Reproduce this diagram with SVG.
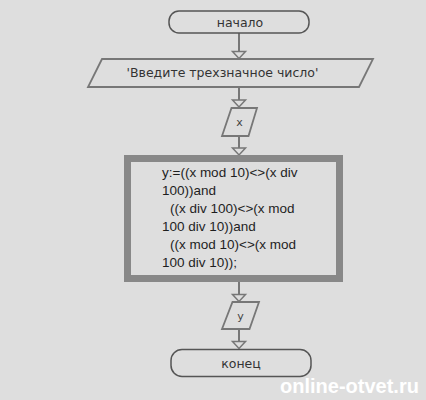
<svg xmlns="http://www.w3.org/2000/svg" width="426" height="400" viewBox="0 0 426 400">
<defs>
<style>
.term{fill:#dedede;stroke:#555;stroke-width:1.5}
.io{fill:#dedede;stroke:#777;stroke-width:1.8}
.proc{fill:#dedede;stroke:#888;stroke-width:7}
.lbl{font-family:"DejaVu Sans",sans-serif;font-size:12.5px;fill:#333;text-anchor:middle}
.var{font-family:"DejaVu Sans",sans-serif;font-size:11px;fill:#444;text-anchor:middle}
.code{font-family:"Liberation Sans",Arial,sans-serif;font-size:13.5px;fill:#1e1e1e}
.conn{stroke:#777;stroke-width:2;fill:none}
.head{fill:#dedede;stroke:#777;stroke-width:1.5}
.wm{font-family:"Liberation Sans",Arial,sans-serif;font-size:20px;font-weight:bold;fill:#ffffff}
</style>
</defs>
<rect width="426" height="400" fill="#dedede"/>
<g id="connectors">
<line class="conn" x1="239" y1="33" x2="239" y2="52"/>
<polygon class="head" points="232.5,51.5 245.5,51.5 239,58.5"/>
<line class="conn" x1="239" y1="87" x2="239" y2="100"/>
<polygon class="head" points="232.5,100 245.5,100 239,107"/>
<line class="conn" x1="239" y1="136" x2="239" y2="148"/>
<polygon class="head" points="232.5,148 245.5,148 239,155"/>
<line class="conn" x1="239" y1="282" x2="239" y2="295"/>
<polygon class="head" points="232.5,294.5 245.5,294.5 239,301.5"/>
<line class="conn" x1="239" y1="329" x2="239" y2="342"/>
<polygon class="head" points="232.5,341.5 245.5,341.5 239,348.5"/>
</g>
<g id="start">
<rect class="term" x="169" y="11" width="140" height="22" rx="10"/>
<text class="lbl" x="240" y="27">начало</text>
</g>
<g id="prompt">
<polygon class="io" points="102,59 373,59 359,87 88,87"/>
<text class="lbl" x="222.5" y="77">'Введите трехзначное число'</text>
</g>
<g id="input-x">
<polygon class="io" points="231.5,108 257,108 248.5,136 222,136"/>
<text class="var" x="239.5" y="126">x</text>
</g>
<g id="process">
<rect class="proc" x="127.5" y="158.5" width="212" height="120"/>
<text class="code" xml:space="preserve"><tspan x="162" y="177">y:=((x mod 10)&lt;&gt;(x div</tspan><tspan x="162" y="195">100))and</tspan><tspan x="170" y="213">((x div 100)&lt;&gt;(x mod</tspan><tspan x="162" y="231">100 div 10))and</tspan><tspan x="170" y="249">((x mod 10)&lt;&gt;(x mod</tspan><tspan x="162" y="267">100 div 10));</tspan></text>
</g>
<g id="output-y">
<polygon class="io" points="232.5,302 259,302 249.5,329 222,329"/>
<text class="var" x="240.5" y="320">y</text>
</g>
<g id="end">
<rect class="term" x="171" y="349.5" width="140" height="27" rx="11"/>
<text class="lbl" x="241" y="367.5">конец</text>
</g>
<text class="wm" x="280" y="393">online-otvet.ru</text>
</svg>
